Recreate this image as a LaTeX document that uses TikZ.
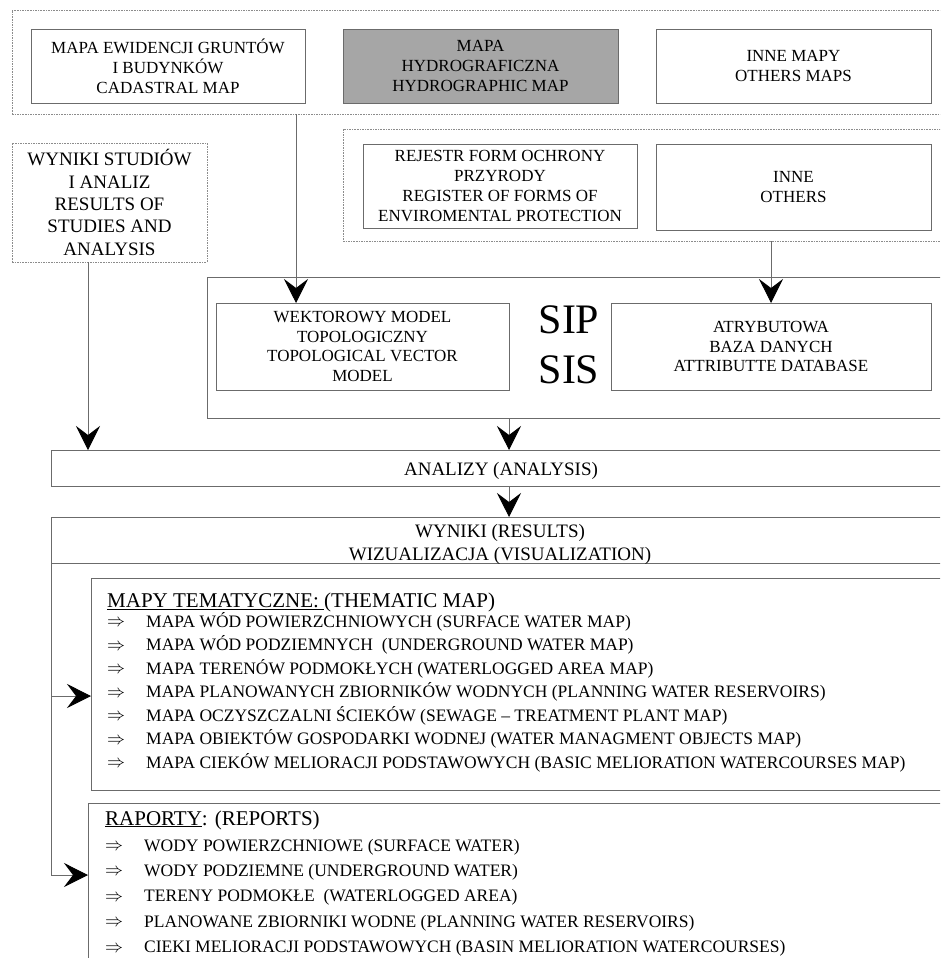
\documentclass[tikz,border=0pt]{standalone}
\usepackage{fontspec}
\setmainfont{Liberation Serif}
\usetikzlibrary{arrows.meta,calc}
\definecolor{hydro}{HTML}{A6A6A6}
\newcommand{\imp}{\makebox[39pt][l]{\raisebox{0.5pt}{\resizebox{18pt}{!}{$\Rightarrow$}}}}
\tikzset{
  box/.style={draw=black!58, line width=0.85pt, inner sep=0pt, outer sep=0pt, anchor=north west, align=center, text=black},
  grp/.style={draw=black!45, line width=0.7pt, dash pattern=on 1.6pt off 1pt, inner sep=0pt, outer sep=0pt, anchor=north west, align=center},
  conn/.style={draw=black!58, line width=0.85pt, -{Stealth[length=24pt,width=24pt,inset=9pt,black]}},
  lst/.style={anchor=base west, inner sep=0pt, font=\fontsize{17.5}{20}\selectfont},
  hdr/.style={anchor=base west, inner sep=0pt, font=\fontsize{21}{24}\selectfont},
  bt/.style={font=\fontsize{17}{19.8}\selectfont},
  big/.style={font=\fontsize{19}{22.3}\selectfont},
}
\begin{document}
\begin{tikzpicture}[x=1pt,y=-1pt]
\useasboundingbox (0,0) rectangle (940,958);
\clip (0,0) rectangle (940,958);

% top group
\node[grp, minimum width=938pt, minimum height=104pt] (topgrp) at (12,10) {};
\node[box, bt, minimum width=274pt, minimum height=74pt] (cad) at (31,29) {MAPA EWIDENCJI GRUNTÓW\\I BUDYNKÓW\\CADASTRAL MAP};
\node[box, bt, fill=hydro, minimum width=275pt, minimum height=74pt] (hyd) at (343,29) {MAPA\\HYDROGRAFICZNA\\HYDROGRAPHIC MAP};
\node[box, bt, minimum width=275pt, minimum height=74pt] (inm) at (656,29) {INNE MAPY\\OTHERS MAPS};

% second group
\node[grp, minimum width=607pt, minimum height=112pt] (grp2) at (343,129) {};
\node[box, bt, minimum width=274pt, minimum height=84pt] (rej) at (363,144) {REJESTR FORM OCHRONY\\PRZYRODY\\REGISTER OF FORMS OF\\ENVIROMENTAL PROTECTION};
\node[box, bt, minimum width=275pt, minimum height=86pt] (inn) at (656,144) {INNE\\OTHERS};

% studies
\node[grp, big, minimum width=195pt, minimum height=119pt] (ws) at (12,143) {WYNIKI STUDIÓW\\I ANALIZ\\RESULTS OF\\STUDIES AND\\ANALYSIS};

% SIP block
\node[box, minimum width=743pt, minimum height=141pt] (sip) at (207,277) {};
\node[box, bt, minimum width=293pt, minimum height=87pt] (wek) at (216,303) {WEKTOROWY MODEL\\TOPOLOGICZNY\\TOPOLOGICAL VECTOR\\MODEL};
\node[box, bt, minimum width=320pt, minimum height=87pt] (atr) at (611,303) {ATRYBUTOWA\\BAZA DANYCH\\ATTRIBUTTE DATABASE};
\node[anchor=base, inner sep=0pt, font=\fontsize{42}{50}\selectfont] (sipa) at (569,333) {SIP};
\node[anchor=base, inner sep=0pt, font=\fontsize{42}{50}\selectfont] (sipb) at (569,383) {SIS};

% analysis
\node[box, minimum width=899pt, minimum height=36pt] (ana) at (51,450) {};
\node[anchor=base, inner sep=0pt, font=\fontsize{19}{22}\selectfont] (anat) at (501,475) {ANALIZY (ANALYSIS)};

% results
\node[box, minimum width=899pt, minimum height=46pt] (wyn) at (51,517) {};
\node[anchor=base, inner sep=0pt, font=\fontsize{19}{22}\selectfont] (wyn1) at (500,537.5) {WYNIKI (RESULTS)};
\node[anchor=base, inner sep=0pt, font=\fontsize{19}{22}\selectfont] (wyn2) at (500,560) {WIZUALIZACJA (VISUALIZATION)};

% thematic maps
\node[box, minimum width=859pt, minimum height=212pt] (mapy) at (91,578) {};
\node[hdr] (mh) at (107,607) {\underline{MAPY TEMATYCZNE:\ }(THEMATIC MAP)};
\foreach \t [count=\i] in {
  {MAPA WÓD POWIERZCHNIOWYCH (SURFACE WATER MAP)},
  {MAPA WÓD PODZIEMNYCH\ \ (UNDERGROUND WATER MAP)},
  {MAPA TERENÓW PODMOKŁYCH (WATERLOGGED AREA MAP)},
  {MAPA PLANOWANYCH ZBIORNIKÓW WODNYCH (PLANNING WATER RESERVOIRS)},
  {MAPA OCZYSZCZALNI ŚCIEKÓW (SEWAGE – TREATMENT PLANT MAP)},
  {MAPA OBIEKTÓW GOSPODARKI WODNEJ (WATER MANAGMENT OBJECTS MAP)},
  {MAPA CIEKÓW MELIORACJI PODSTAWOWYCH (BASIC MELIORATION WATERCOURSES MAP)}}
  \node[lst] (m\i) at (107,603.5+23.5*\i) {\imp\t};

% reports
\node[box, minimum width=862pt, minimum height=200pt] (rap) at (88,803) {};
\node[hdr] (rh) at (105,825) {\underline{RAPORTY}: (REPORTS)};
\foreach \t [count=\i] in {
  {WODY POWIERZCHNIOWE (SURFACE WATER)},
  {WODY PODZIEMNE (UNDERGROUND WATER)},
  {TERENY PODMOKŁE\ \ (WATERLOGGED AREA)},
  {PLANOWANE ZBIORNIKI WODNE (PLANNING WATER RESERVOIRS)},
  {CIEKI MELIORACJI PODSTAWOWYCH (BASIN MELIORATION WATERCOURSES)}}
  \node[lst] (r\i) at (105,825.6+25.4*\i) {\imp\t};

% connectors
\coordinate (c1) at (296,0);
\coordinate (c2) at (88,0);
\coordinate (c3) at (509,0);
\coordinate (c4) at (0,696);
\coordinate (c5) at (0,875);
\draw[conn] (topgrp.south -| c1) -- (wek.north -| c1);
\draw[conn] (grp2.south -| atr.north) -- (atr.north);
\draw[conn] (ws.south -| c2) -- (ana.north -| c2);
\draw[conn] (sip.south -| c3) -- (ana.north -| c3);
\draw[conn] (ana.south -| c3) -- (wyn.north -| c3);
\draw[conn] (wyn.south west) |- (mapy.west |- c4);
\draw[conn] (wyn.south west) |- (rap.west |- c5);
\end{tikzpicture}
\end{document}
